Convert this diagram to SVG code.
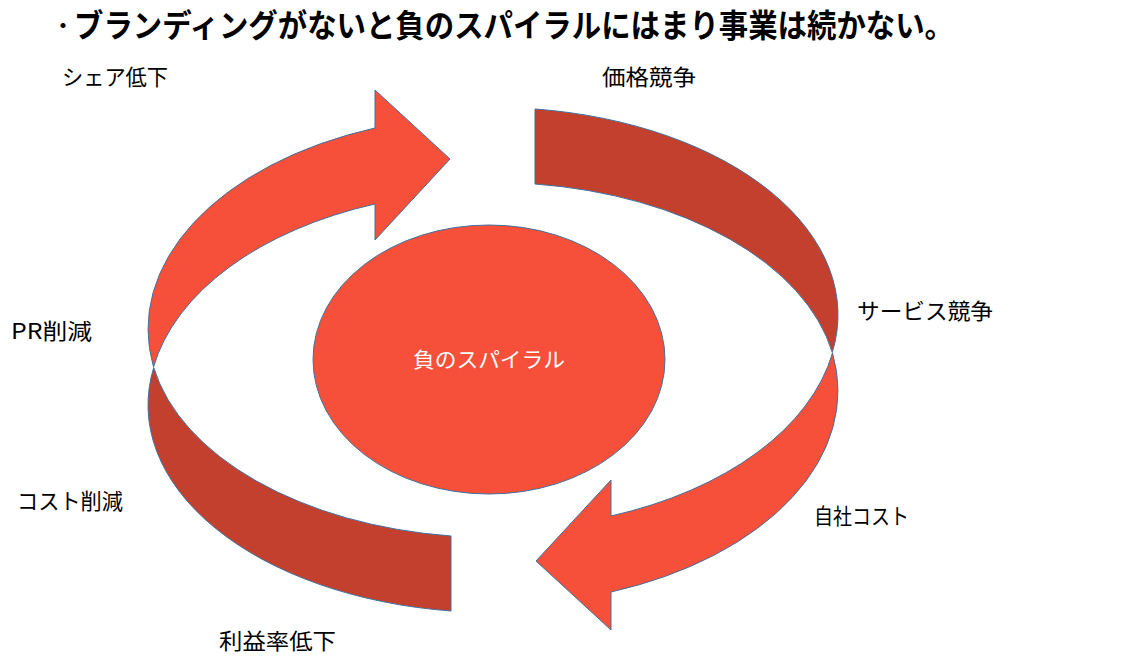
<svg xmlns="http://www.w3.org/2000/svg" width="1134" height="662" viewBox="0 0 1134 662">
<style>
.lbl{font-family:"Noto Sans CJK JP","Noto Sans",sans-serif;font-size:22px;fill:#000}
.bright{fill:#F6503A;stroke:#41719C;stroke-width:1}
.dark{fill:#C33F2E;stroke:#41719C;stroke-width:1}
.title{font-family:"Noto Sans CJK JP",sans-serif;font-size:32px;font-weight:bold;fill:#000}
</style>
<rect width="1134" height="662" fill="#fff"/>
<g id="title">
<text class="title" y="37"><tspan x="53" y="33" style="font-size:20px">・</tspan><tspan x="74" y="37" textLength="880" lengthAdjust="spacingAndGlyphs">ブランディングがないと負のスパイラルにはまり事業は続かない。</tspan></text>
</g>
<g id="connectors">
<path id="arc-top-right" class="dark" d="M 535 109 A 345 207.5 0 0 1 832.3 352.5 A 345 207.5 0 0 0 535 184 Z"/>
<path id="arc-bottom-left" class="dark" d="M 451 611 A 345 207.5 0 0 1 153.7 367.5 A 345 207.5 0 0 0 451 536 Z"/>
<path id="arrow-top-left" class="bright" d="M 153.5 367 A 345 214 0 0 1 375 128 L 375 90 L 450 159 L 375 240 L 375 204 A 345 214 0 0 0 153.5 367 Z"/>
<path id="arrow-bottom-right" class="bright" d="M 832.5 353 A 345 214 0 0 1 611 592 L 611 630 L 536 561 L 611 480 L 611 516 A 345 214 0 0 0 832.5 353 Z"/>
</g>
<g id="center">
<ellipse class="bright" cx="489" cy="359.5" rx="176" ry="134.5"/>
<text x="489" y="367" text-anchor="middle" textLength="152" lengthAdjust="spacingAndGlyphs" style="font-family:'Noto Sans CJK JP',sans-serif;font-size:21px;fill:#fff">負のスパイラル</text>
</g>
<g id="label-share"><text class="lbl" x="62" y="85" textLength="106" lengthAdjust="spacingAndGlyphs">シェア低下</text></g>
<g id="label-price"><text class="lbl" x="602" y="85" textLength="94" lengthAdjust="spacingAndGlyphs">価格競争</text></g>
<g id="label-service"><text class="lbl" x="857" y="319" textLength="136" lengthAdjust="spacingAndGlyphs">サービス競争</text></g>
<g id="label-pr"><text class="lbl" x="11" y="339" textLength="81" lengthAdjust="spacingAndGlyphs">PR削減</text></g>
<g id="label-cost"><text class="lbl" x="17" y="509" textLength="106" lengthAdjust="spacingAndGlyphs">コスト削減</text></g>
<g id="label-own"><text class="lbl" x="814" y="524" textLength="95" lengthAdjust="spacingAndGlyphs">自社コスト</text></g>
<g id="label-profit"><text class="lbl" x="219" y="649" textLength="117" lengthAdjust="spacingAndGlyphs">利益率低下</text></g>
</svg>
